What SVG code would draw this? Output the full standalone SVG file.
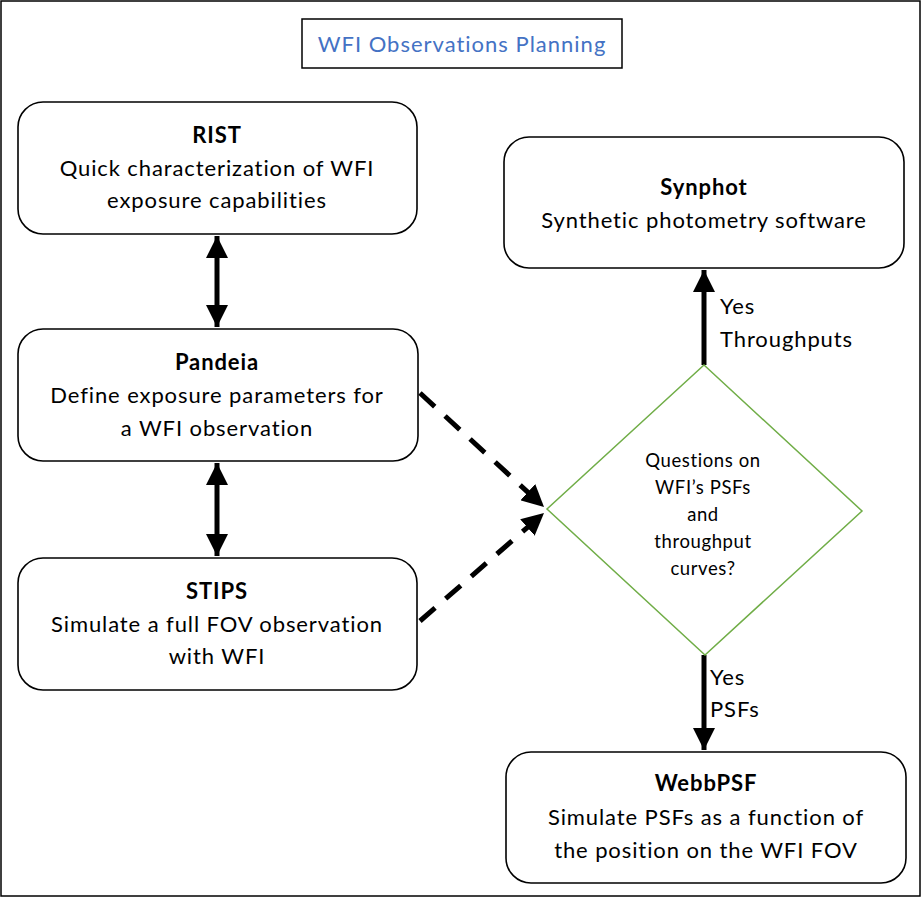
<svg xmlns="http://www.w3.org/2000/svg" width="922" height="898" viewBox="0 0 922 898">
<style>
.box{fill:#fff;stroke:#000;stroke-width:1.6}
.t{font-family:Lato,"Liberation Sans",sans-serif;font-size:22px;letter-spacing:0.9px;fill:#000;text-anchor:middle}
.b{font-weight:bold}
.s{font-size:18.5px;letter-spacing:0.6px}
.l{text-anchor:start}
.arr{stroke:#000;stroke-width:5;fill:none}
</style>
<defs>
<marker id="ah" viewBox="0 0 10 10" refX="10" refY="5" markerWidth="4.4" markerHeight="4.4" orient="auto-start-reverse" markerUnits="strokeWidth">
<path d="M0,0 L10,5 L0,10 z" fill="#000"/>
</marker>
</defs>
<rect x="1" y="1" width="919" height="895" fill="#fff" stroke="#000" stroke-width="1.5"/>
<g id="title">
<rect x="302" y="19" width="320" height="49" fill="#fff" stroke="#000" stroke-width="1.5"/>
<text x="462" y="52" class="t" style="fill:#4472C4;font-size:22px;letter-spacing:1px">WFI Observations Planning</text>
</g>
<g id="connectors">
<line x1="217" y1="236" x2="217" y2="327" class="arr" marker-start="url(#ah)" marker-end="url(#ah)"/>
<line x1="217" y1="463" x2="217" y2="556" class="arr" marker-start="url(#ah)" marker-end="url(#ah)"/>
<line x1="420" y1="393" x2="544" y2="507" class="arr" stroke-dasharray="20,14" marker-end="url(#ah)"/>
<line x1="420" y1="621" x2="544" y2="513" class="arr" stroke-dasharray="20,14" marker-end="url(#ah)"/>
<line x1="704" y1="365" x2="704" y2="270" class="arr" marker-end="url(#ah)"/>
<line x1="704" y1="655" x2="704" y2="750" class="arr" marker-end="url(#ah)"/>
<text x="720" y="314" class="t l">Yes</text>
<text x="720" y="347" class="t l">Throughputs</text>
<text x="710" y="685" class="t l">Yes</text>
<text x="710" y="717" class="t l">PSFs</text>
</g>
<g id="rist">
<rect x="18" y="102" width="399" height="132" rx="25" class="box"/>
<text x="217" y="143" class="t b">RIST</text>
<text x="217" y="176" class="t">Quick characterization of WFI</text>
<text x="217" y="208" class="t">exposure capabilities</text>
</g>
<g id="pandeia">
<rect x="18" y="329" width="400" height="132" rx="25" class="box"/>
<text x="217" y="370" class="t b">Pandeia</text>
<text x="217" y="403" class="t">Define exposure parameters for</text>
<text x="217" y="436" class="t">a WFI observation</text>
</g>
<g id="stips">
<rect x="18" y="558" width="399" height="132" rx="25" class="box"/>
<text x="217" y="599" class="t b">STIPS</text>
<text x="217" y="632" class="t">Simulate a full FOV observation</text>
<text x="217" y="664" class="t">with WFI</text>
</g>
<g id="synphot">
<rect x="504" y="137" width="400" height="131" rx="25" class="box"/>
<text x="704" y="195" class="t b">Synphot</text>
<text x="704" y="228" class="t">Synthetic photometry software</text>
</g>
<g id="decision">
<polygon points="704,365 862,511 705,655 547,509" fill="#fff" stroke="#70AD47" stroke-width="1.5"/>
<text x="703" y="467" class="t s">Questions on</text>
<text x="703" y="494" class="t s">WFI’s PSFs</text>
<text x="703" y="521" class="t s">and</text>
<text x="703" y="548" class="t s">throughput</text>
<text x="703" y="575" class="t s">curves?</text>
</g>
<g id="webbpsf">
<rect x="506" y="752" width="400" height="131" rx="25" class="box"/>
<text x="706" y="791" class="t b">WebbPSF</text>
<text x="706" y="825" class="t">Simulate PSFs  as a function of</text>
<text x="706" y="858" class="t">the position on the WFI FOV</text>
</g>
</svg>
